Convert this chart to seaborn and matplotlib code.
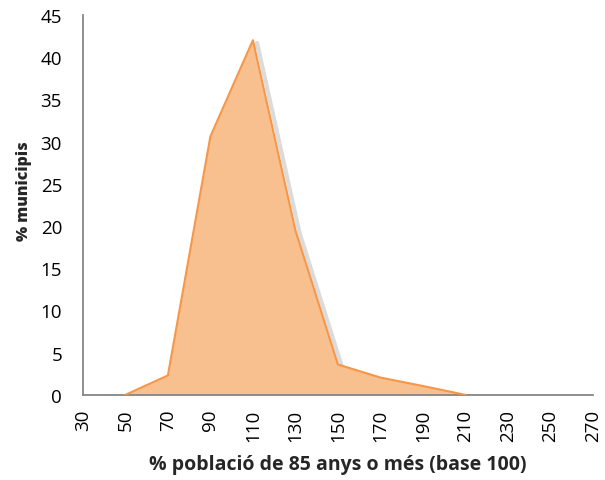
import matplotlib
matplotlib.use("Agg")
import matplotlib.pyplot as plt
import matplotlib.patheffects as pe
import seaborn as sns
import pandas as pd

# data
base_pct = [50, 70, 90, 110, 130, 150, 170, 190, 210]
pct_municipis = [0, 2.3, 30.6, 42, 19.5, 3.6, 2.05, 1.05, 0]
x_ticks = list(range(30, 271, 20))
y_ticks = list(range(0, 46, 5))

df = pd.DataFrame({"base": base_pct, "pct": pct_municipis})

sns.set_style("white")
plt.rcParams['font.family'] = ['Open Sans', 'DejaVu Sans']

fig = plt.figure(figsize=(6.05, 4.81), dpi=100)
ax = fig.add_axes([0.137, 0.177, 0.843, 0.79])

# soft shadow behind the area (offset right/down)
sns.lineplot(data=df, x="base", y="pct", ax=ax, color='#F79646', linewidth=3, zorder=1,
             path_effects=[pe.SimpleLineShadow(offset=(3, -2), shadow_color='#888888', alpha=0.3)])
ax.lines[-1].set_alpha(0)
ax.fill_between(df["base"], df["pct"], 0, color='#F9C08F', linewidth=0, zorder=2)
sns.lineplot(data=df, x="base", y="pct", ax=ax, color='#F79646', linewidth=1.5, zorder=3)

ax.set_xlim(30, 270)
ax.set_ylim(0, 45)
ax.set_xticks(x_ticks)
ax.set_xticklabels([str(v) for v in x_ticks], rotation=90)
ax.set_yticks(y_ticks)
ax.tick_params(axis='both', labelsize=13.5, colors='#868686', labelcolor='black',
               length=5, width=1.3, direction='out')
ax.tick_params(axis='x', pad=5)
ax.tick_params(axis='y', pad=10)

for s in ['top', 'right']:
    ax.spines[s].set_visible(False)
for s in ['left', 'bottom']:
    ax.spines[s].set_color('#868686')
    ax.spines[s].set_linewidth(1.3)

ax.set_xlabel('% població de 85 anys o més (base 100)', fontsize=14, fontweight='bold', labelpad=9)
ax.set_ylabel('% municipis', fontsize=11.5, fontweight='heavy')
ax.yaxis.set_label_coords(-0.1, 0.54)

fig.savefig('out.png', dpi=100)
